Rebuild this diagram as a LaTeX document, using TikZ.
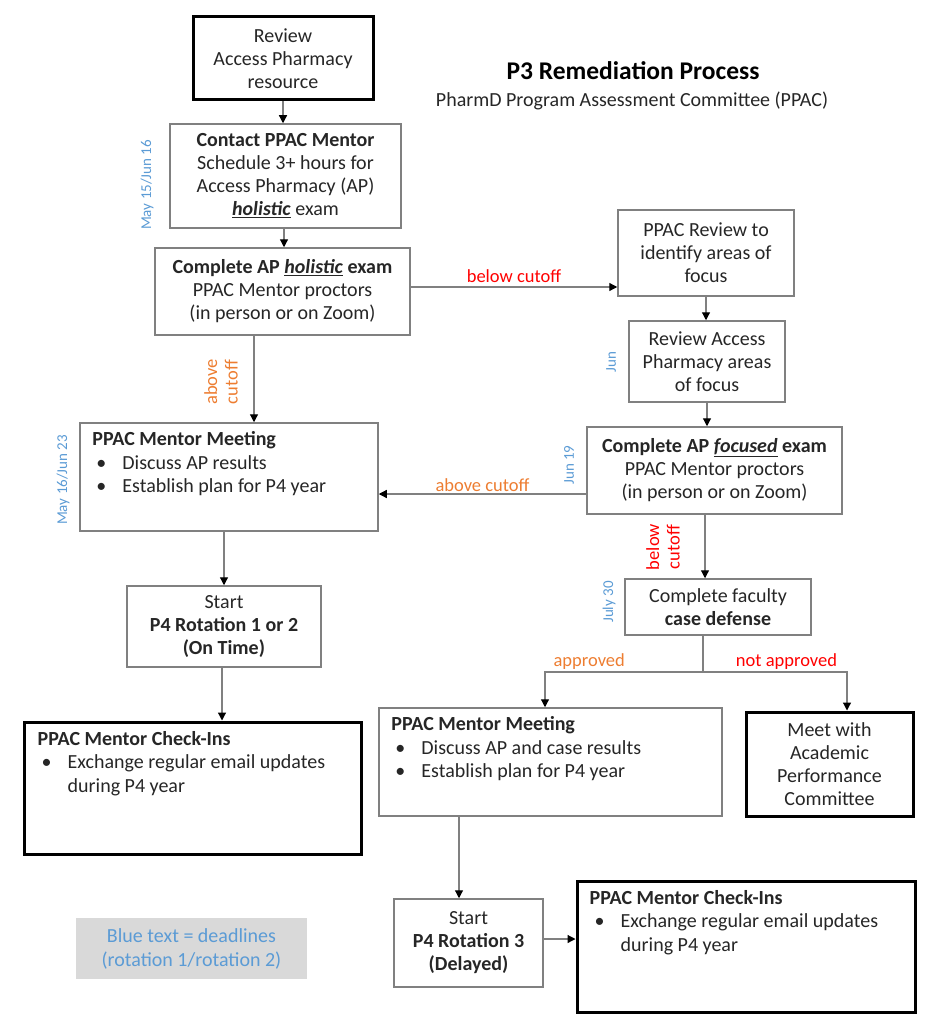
\documentclass[tikz,border=0pt]{standalone}
\usepackage{fontspec}
\setmainfont{Carlito}
\usetikzlibrary{arrows.meta}

\definecolor{deadline}{HTML}{5B9BD5}
\definecolor{passed}{HTML}{ED7D31}
\definecolor{failed}{HTML}{FF0000}
\definecolor{edge}{HTML}{808080}
\definecolor{ink}{HTML}{262626}
\definecolor{legendbg}{HTML}{D9D9D9}

\newcommand{\emexam}[1]{\underline{\textit{#1}}}

\begin{document}
\begin{tikzpicture}[x=1pt,y=-1pt,
    box/.style={draw=edge, line width=1.5pt, text=ink, align=center, inner sep=2pt,
      font=\fontsize{20}{23}\selectfont},
    thickbox/.style={box, draw=black, line width=3pt},
    listtext/.style={inner sep=0pt, text=ink, anchor=north west,
      font=\fontsize{20}{23.5}\selectfont},
    conn/.style={draw=edge, line width=1.2pt, -{Triangle[length=8pt,width=8pt,color=black]}},
    link/.style={draw=edge, line width=1.2pt},
    lbl/.style={font=\fontsize{18.5}{20.5}\selectfont, align=center, inner sep=1pt},
    date/.style={text=deadline, rotate=90, font=\fontsize{15}{18}\selectfont, inner sep=0pt}]
  \useasboundingbox (0,0) rectangle (936,1022);

  % heading
  \node [font=\bfseries\fontsize{25.5}{29}\selectfont] (title) at (633,71) {P3 Remediation Process};
  \node [font=\fontsize{20}{23}\selectfont, text=ink] (subtitle) at (632,101) {PharmD Program Assessment Committee (PPAC)};

  % left column
  \node [thickbox, minimum width=180, minimum height=83] (review) at (283,58.5)
    {Review\\Access Pharmacy\\resource};
  \node [box, minimum width=231, minimum height=104] (contact) at (285.5,176)
    {\textbf{Contact PPAC Mentor}\\Schedule 3+ hours for\\Access Pharmacy (AP)\\\textbf{\emexam{holistic}} exam};
  \node [box, minimum width=255, minimum height=87] (holistic) at (282.5,291.5)
    {\textbf{Complete AP \emexam{holistic} exam}\\PPAC Mentor proctors\\(in person or on Zoom)};
  \node [box, minimum width=298, minimum height=108] (meetA) at (229,477) {};
  \node [listtext] (meetAtxt) at ([xshift=13pt,yshift=-7pt]meetA.north west)
    {\begin{tabular}{@{}p{30pt}@{}l@{}}
      \multicolumn{2}{@{}l@{}}{\textbf{PPAC Mentor Meeting}}\\
      \hspace{4pt}\textbullet & Discuss AP results\\
      \hspace{4pt}\textbullet & Establish plan for P4 year
    \end{tabular}};
  \node [box, minimum width=194, minimum height=81] (startA) at (224,626.5)
    {Start\\\textbf{P4 Rotation 1 or 2}\\\textbf{(On Time)}};
  \node [thickbox, minimum width=337, minimum height=132] (checkA) at (192.5,788) {};
  \node [listtext] (checkAtxt) at ([xshift=15pt,yshift=-8pt]checkA.north west)
    {\begin{tabular}{@{}p{30pt}@{}l@{}}
      \multicolumn{2}{@{}l@{}}{\textbf{PPAC Mentor Check-Ins}}\\
      \hspace{4pt}\textbullet & Exchange regular email updates\\
       & during P4 year
    \end{tabular}};

  % right column
  \node [box, minimum width=176, minimum height=86] (ppacreview) at (706,253)
    {PPAC Review to\\identify areas of\\focus};
  \node [box, minimum width=156, minimum height=81] (areas) at (707,361.5)
    {Review Access\\Pharmacy areas\\of focus};
  \node [box, minimum width=255, minimum height=87] (focused) at (714.5,470.5)
    {\textbf{Complete AP \emexam{focused} exam}\\PPAC Mentor proctors\\(in person or on Zoom)};
  \node [box, minimum width=186, minimum height=56] (casedef) at (718,607)
    {Complete faculty\\\textbf{case defense}};
  \node [box, minimum width=343, minimum height=108] (meetB) at (550.5,762) {};
  \node [listtext] (meetBtxt) at ([xshift=13pt,yshift=-7pt]meetB.north west)
    {\begin{tabular}{@{}p{30pt}@{}l@{}}
      \multicolumn{2}{@{}l@{}}{\textbf{PPAC Mentor Meeting}}\\
      \hspace{4pt}\textbullet & Discuss AP and case results\\
      \hspace{4pt}\textbullet & Establish plan for P4 year
    \end{tabular}};
  \node [thickbox, minimum width=167, minimum height=104] (apc) at (829.5,764)
    {Meet with\\Academic\\Performance\\Committee};
  \node [box, minimum width=149, minimum height=88] (startB) at (468.5,943)
    {Start\\\textbf{P4 Rotation 3}\\\textbf{(Delayed)}};
  \node [thickbox, minimum width=338, minimum height=131] (checkB) at (746,946.5) {};
  \node [listtext] (checkBtxt) at ([xshift=14pt,yshift=-8pt]checkB.north west)
    {\begin{tabular}{@{}p{31pt}@{}l@{}}
      \multicolumn{2}{@{}l@{}}{\textbf{PPAC Mentor Check-Ins}}\\
      \hspace{5pt}\textbullet & Exchange regular email updates\\
       & during P4 year
    \end{tabular}};

  % legend
  \node [fill=legendbg, text=deadline, align=center, minimum width=231, minimum height=61,
    font=\fontsize{20}{24}\selectfont] (legend) at (191.5,948.5)
    {Blue text = deadlines\\(rotation 1/rotation 2)};

  % deadlines
  \node [date] (dContact) at (147,185) {May 15/Jun 16};
  \node [date] (dMeetA) at (63,480) {May 16/Jun 23};
  \node [date] (dAreas) at (611,362) {Jun};
  \node [date] (dFocused) at (569,465) {Jun 19};
  \node [date] (dCase) at (609,602) {July 30};

  % connectors
  \draw [conn] (review.south) -- (review.south |- contact.north);
  \draw [conn] ([xshift=-1.5pt]contact.south) -- ([xshift=-1.5pt]contact.south |- holistic.north);
  \draw [conn] ([yshift=4.5pt]holistic.east) -- ([yshift=4.5pt]holistic.east -| ppacreview.west)
    node [lbl, text=failed, midway, above=3pt] {below cutoff};
  \draw [conn] ([xshift=-28.5pt]holistic.south) -- ([xshift=-28.5pt]holistic.south |- meetA.north);
  \node [lbl, text=passed, rotate=90] (aboveA) at (221,382) {above\\cutoff};
  \draw [conn] (ppacreview.south) -- (ppacreview.south |- areas.north);
  \draw [conn] (areas.south) -- (areas.south |- focused.north);
  \draw [conn] ([yshift=-23.5pt]focused.west) -- ([yshift=-23.5pt]focused.west -| meetA.east)
    node [lbl, text=passed, midway, above=1pt] {above cutoff};
  \draw [conn] ([xshift=-9.5pt]focused.south) -- ([xshift=-9.5pt]focused.south |- casedef.north);
  \node [lbl, text=failed, rotate=90] (belowF) at (663,547) {below\\cutoff};
  \draw [conn] (meetA.south -| startA.north) -- (startA.north);
  \draw [conn] ([xshift=-2pt]startA.south) -- ([xshift=-2pt]startA.south |- checkA.north);

  \coordinate (split) at (703,672);
  \draw [link] (casedef.south -| split) -- (split);
  \draw [conn] (split) -| ([xshift=-5.5pt]meetB.north)
    node [lbl, text=passed, pos=0.36, above=1pt] {approved};
  \draw [conn] (split) -| ([xshift=17.5pt]apc.north)
    node [lbl, text=failed, pos=0.29, above=1pt] {not approved};
  \draw [conn] ([xshift=-9.5pt]startB.north |- meetB.south) -- ([xshift=-9.5pt]startB.north);
  \draw [conn] ([yshift=4pt]startB.east) -- ([yshift=4pt]startB.east -| checkB.west);
\end{tikzpicture}
\end{document}
